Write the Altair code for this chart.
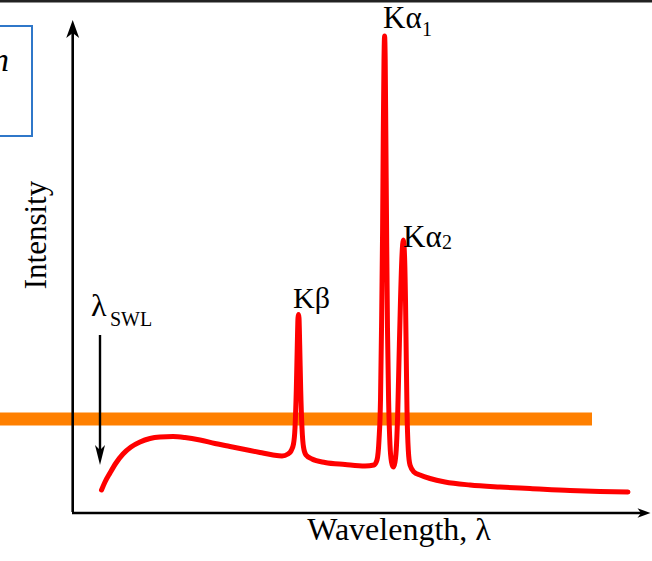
import altair as alt
import pandas as pd

# ---- data (wavelength offset from axis origin, intensity above baseline) ----
curve_wl = [29.5, 33, 38, 44, 51, 59, 68, 78, 88, 101, 113, 128, 143, 158, 173, 188, 201, 210,
            216, 219, 221.5, 223, 224.3, 225.3, 226, 226.5, 227, 227.7, 228.7, 230, 231.5, 234, 240, 253,
            273, 293, 302, 305, 307, 308.5, 309.5, 310.6, 311.3, 312, 312.6, 313.2, 313.8, 314.6, 315.5,
            316.6, 318, 319.5, 321.3, 323, 324.5, 325.8, 327, 328.5, 330, 331.3, 332.5, 333.5, 334.3,
            335, 336.3, 338, 342, 348, 358, 373, 398, 428, 458, 498, 528, 556]
curve_int = [22, 30, 39, 49, 58, 65, 70, 73.5, 75, 75.5, 74.5, 72, 68.5, 65.5, 62.5, 59.5, 57, 56,
             58, 61, 68, 84, 122, 167, 194, 197.5, 194, 167, 122, 84, 65, 57, 53, 49.5,
             47.5, 46, 47, 52, 72, 112, 182, 282, 380, 452, 476, 452, 382, 282, 182,
             112, 67, 50, 45, 50, 67, 102, 152, 212, 257, 272, 257, 212, 152,
             102, 62, 47, 40, 37, 33.5, 30, 27, 25, 23.5, 21.5, 20.5, 20]

labels_text = ["K\u03b1", "1", "K\u03b1", "2", "K\u03b2", "\u03bb", "SWL"]
labels_x = [311, 350, 331, 370, 221, 19, 38]
labels_y = [484, 476, 265, 263, 204, 196, 186]
labels_size = [31, 20, 31, 20, 30, 32, 20]

x_title = "Wavelength, \u03bb"
y_title = "Intensity"

XS = alt.Scale(domain=[-72, 580], nice=False, zero=False)
YS = alt.Scale(domain=[-49, 512], nice=False, zero=False)
FONT = "Liberation Serif"


def X(f="x"):
    return alt.X(f + ":Q", scale=XS, axis=None)


def Y(f="y"):
    return alt.Y(f + ":Q", scale=YS, axis=None)


# top border line
top = alt.Chart(pd.DataFrame({"x": [-72], "x2": [580], "y": [511]})).mark_rule(
    color="#222222", strokeWidth=3).encode(x=X(), x2="x2:Q", y=Y())

# blue box (partly off canvas)
box = alt.Chart(pd.DataFrame({"x": [-90], "x2": [-40], "y": [486], "y2": [376]})).mark_rect(
    fill="white", fillOpacity=0, stroke="#2f77c9", strokeWidth=2).encode(
    x=X(), x2="x2:Q", y=Y(), y2="y2:Q")

ntext = alt.Chart(pd.DataFrame({"x": [-63], "y": [441], "t": ["n"]})).mark_text(
    font=FONT, fontSize=34, fontStyle="italic", align="right",
    baseline="alphabetic", color="black").encode(x=X(), y=Y(), text="t:N")

# orange band
band = alt.Chart(pd.DataFrame({"x": [-72], "x2": [520], "y": [93]})).mark_rule(
    color="#ff8000", strokeWidth=13).encode(x=X(), x2="x2:Q", y=Y())

# axes
yaxis = alt.Chart(pd.DataFrame({"x": [0.7], "y": [0], "y2": [484]})).mark_rule(
    color="black", strokeWidth=2.6).encode(x=X(), y=Y(), y2="y2:Q")
xaxis = alt.Chart(pd.DataFrame({"x": [0], "x2": [572], "y": [-1]})).mark_rule(
    color="black", strokeWidth=2.6).encode(x=X(), x2="x2:Q", y=Y())

head_path = "M0,-1L0.72,1L0,0.45L-0.72,1Z"
yhead = alt.Chart(pd.DataFrame({"x": [0.7], "y": [483]})).mark_point(
    shape=head_path, filled=True, color="black", size=324, opacity=1).encode(x=X(), y=Y())
xhead = alt.Chart(pd.DataFrame({"x": [572], "y": [-1]})).mark_point(
    shape=head_path, filled=True, color="black", size=169, angle=90, opacity=1).encode(x=X(), y=Y())

# lambda SWL arrow
larrow = alt.Chart(pd.DataFrame({"x": [28], "y": [177], "y2": [62]})).mark_rule(
    color="black", strokeWidth=2.4).encode(x=X(), y=Y(), y2="y2:Q")
lhead = alt.Chart(pd.DataFrame({"x": [28], "y": [57]})).mark_point(
    shape="M0,-1L0.5,1L0,0.5L-0.5,1Z", filled=True, color="black", size=400, angle=180,
    opacity=1).encode(x=X(), y=Y())

# spectrum curve
cdf = pd.DataFrame({"x": curve_wl, "y": curve_int})
curve = alt.Chart(cdf).mark_line(color="#ff0000", strokeWidth=5, interpolate="monotone",
                                 strokeCap="round", strokeJoin="round").encode(
    x=X(), y=Y(), order="x:Q")

# labels
ldf = pd.DataFrame({"x": labels_x, "y": labels_y, "t": labels_text, "s": labels_size})
labels = alt.Chart(ldf).mark_text(font=FONT, align="left", baseline="alphabetic",
                                  color="black").encode(
    x=X(), y=Y(), text="t:N", size=alt.Size("s:Q", scale=None, legend=None))

xt = alt.Chart(pd.DataFrame({"x": [327], "y": [-28], "t": [x_title]})).mark_text(
    font=FONT, fontSize=32, align="center", baseline="alphabetic", color="black").encode(
    x=X(), y=Y(), text="t:N")
yt = alt.Chart(pd.DataFrame({"x": [-35], "y": [277], "t": [y_title]})).mark_text(
    font=FONT, fontSize=31, align="center", baseline="middle", angle=270, color="black").encode(
    x=X(), y=Y(), text="t:N")

chart = alt.layer(band, top, box, ntext, yaxis, xaxis, yhead, xhead, larrow, lhead, curve,
                  labels, xt, yt).properties(
    width=652, height=561, padding=0, autosize=alt.AutoSizeParams(type="none"),
    background="white"
).configure_view(stroke=None)

chart.save("out.html", embed_options={"renderer": "svg", "actions": False})
